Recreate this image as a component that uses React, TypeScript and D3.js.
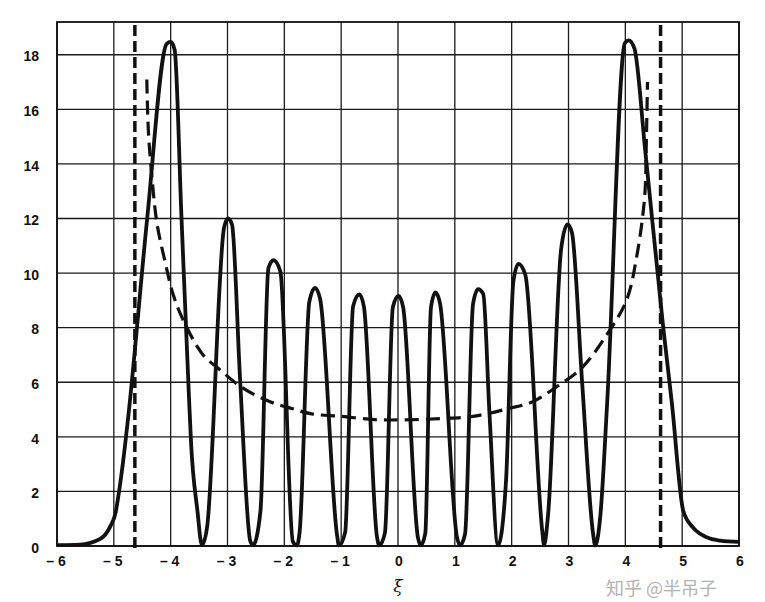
import React from "react";
import * as d3 from "d3";

// Quantum probability density (solid)
const solidX = [
  -5.98, -5.6, -5.24, -5.06, -4.97, -4.92, -4.84, -4.74, -4.41, -4.07, -4.0, -3.93, -3.81, -3.68, -3.64, -3.53, -3.45,
  -3.36, -3.06, -2.99, -2.92, -2.78, -2.6, -2.55,
  -2.42, -2.28, -2.19, -2.07, -1.85, -1.78,
  -1.73, -1.56, -1.46, -1.37, -1.07, -1.04,
  -0.93, -0.79, -0.68, -0.6, -0.37, -0.33,
  -0.23, -0.09, 0.01, 0.09, 0.35, 0.4,
  0.48, 0.58, 0.66, 0.74, 1.04, 1.09,
  1.18, 1.32, 1.41, 1.5, 1.61, 1.76,
  1.9, 2.03, 2.12, 2.24, 2.54, 2.57,
  2.64, 2.87, 2.98, 3.06, 3.24, 3.43, 3.47,
  3.56, 3.68, 3.99, 4.06, 4.16, 4.35, 4.66, 4.82, 5.02, 5.19, 5.44, 5.67, 6.0,
];
const solidY = [
  0.03, 0.05, 0.26, 0.73, 1.21, 1.83, 3.04, 4.86, 12.07, 18.4, 18.47, 18.18, 12.05, 5.56, 3.73, 1.31, 0.03,
  0.68, 11.67, 12.0, 11.77, 6.16, 0.19, 0.03,
  1.28, 10.18, 10.47, 10.06, 0.16, 0.02,
  0.53, 8.95, 9.46, 9.05, 0.36, 0.02,
  0.5, 8.78, 9.22, 8.77, 0.34, 0.02,
  0.48, 8.76, 9.16, 8.75, 0.32, 0.02,
  0.46, 8.74, 9.29, 8.88, 0.3, 0.02,
  0.44, 8.86, 9.41, 9.23, 4.83, 0.02,
  2.36, 9.69, 10.34, 9.94, 0.51, 0.02,
  1.13, 10.87, 11.78, 11.49, 5.99, 0.49, 0.02,
  1.1, 5.24, 18.42, 18.53, 18.23, 14.49, 8.14, 5.21, 1.28, 0.68, 0.31, 0.2, 0.15,
];

// Classical probability density (dashed)
const classicX = [
  -4.42, -4.39, -4.33, -4.24, -4.09, -3.96, -3.78, -3.44, -3.14, -2.74, -2.27, -1.87, -1.52, -0.99, -0.41,
  0.06, 0.77, 1.35, 1.95, 2.36, 2.83, 3.24, 3.66, 4.02, 4.2, 4.34, 4.37, 4.39,
];
const classicY = [
  17.09, 15.11, 13.53, 11.81, 10.34, 9.24, 8.28, 7.03, 6.47, 5.8, 5.3, 5.04, 4.84, 4.75, 4.63,
  4.62, 4.67, 4.76, 5.04, 5.28, 5.89, 6.54, 7.7, 9.0, 10.61, 12.8, 14.9, 17.0,
];

// Classical turning points (vertical dashed lines)
const turningPoints = [-4.63, 4.62];

const xTicks = [-6, -5, -4, -3, -2, -1, 0, 1, 2, 3, 4, 5, 6];
const yTicks = [0, 2, 4, 6, 8, 10, 12, 14, 16, 18];

export default function App() {
  const W = 765;
  const H = 602;
  const x = d3.scaleLinear().domain([-6, 6]).range([57, 739]);
  const y = d3.scaleLinear().domain([0, 19.2]).range([546, 22]);

  const solid = solidX.map((v, i) => [v, solidY[i]] as [number, number]);
  const classic = classicX.map((v, i) => [v, classicY[i]] as [number, number]);

  const solidLine = d3
    .line<[number, number]>()
    .x((d) => x(d[0]))
    .y((d) => y(d[1]))
    .curve(d3.curveMonotoneX);
  const dashLine = d3
    .line<[number, number]>()
    .x((d) => x(d[0]))
    .y((d) => y(d[1]))
    .curve(d3.curveCatmullRom.alpha(0.5));

  const [x0, x1] = x.range();
  const [yb, yt] = y.range();

  return (
    <svg
      width={W}
      height={H}
      style={{ position: "absolute", left: 0, top: 0, background: "#fff" }}
    >
      <defs>
        <clipPath id="plot">
          <rect x={x0} y={yt} width={x1 - x0} height={yb - yt + 3} />
        </clipPath>
      </defs>
      {/* grid */}
      {xTicks.map((t) => (
        <line key={"vx" + t} x1={x(t)} x2={x(t)} y1={yb} y2={yt} stroke="#1a1a1a" strokeWidth={1.3} />
      ))}
      {yTicks.map((t) => (
        <line key={"hy" + t} x1={x0} x2={x1} y1={y(t)} y2={y(t)} stroke="#1a1a1a" strokeWidth={1.3} />
      ))}
      <rect x={x0} y={yt} width={x1 - x0} height={yb - yt} fill="none" stroke="#111" strokeWidth={1.8} />

      <g clipPath="url(#plot)">
        {turningPoints.map((t) => (
          <line
            key={"tp" + t}
            x1={x(t)}
            x2={x(t)}
            y1={yb + 2}
            y2={yt}
            stroke="#111"
            strokeWidth={3.5}
            strokeDasharray="11 5"
          />
        ))}
        <path
          d={dashLine(classic) || ""}
          fill="none"
          stroke="#111"
          strokeWidth={3.2}
          strokeDasharray="14 7"
        />
        <path
          d={solidLine(solid) || ""}
          fill="none"
          stroke="#111"
          strokeWidth={3.8}
          strokeLinejoin="round"
          strokeLinecap="round"
        />
      </g>

      {/* y tick labels */}
      {yTicks.map((t) => (
        <text
          key={"yl" + t}
          x={39}
          y={y(t) + 3}
          textAnchor="end"
          dominantBaseline="middle"
          fontFamily="Liberation Sans, Arial, sans-serif"
          fontSize={14}
          fontWeight="bold"
          fill="#111"
        >
          {t}
        </text>
      ))}
      {/* x tick labels */}
      {xTicks.map((t) => (
        <text
          key={"xl" + t}
          x={x(t) + (t < 0 ? -1 : 1)}
          y={566}
          textAnchor="middle"
          fontFamily="Liberation Sans, Arial, sans-serif"
          fontSize={14}
          fontWeight="bold"
          fill="#111"
        >
          {t < 0 ? "\u2013 " + Math.abs(t) : String(t)}
        </text>
      ))}
      <text
        x={398}
        y={592}
        textAnchor="middle"
        fontFamily="DejaVu Serif, Liberation Serif, serif"
        fontStyle="italic"
        fontSize={17}
        fill="#111"
      >
        ξ
      </text>
      <text
        x={606}
        y={595}
        fontFamily="Noto Sans CJK SC, sans-serif"
        fontSize={18}
        fill="#b3b3b3"
      >
        知乎 @半吊子
      </text>
    </svg>
  );
}
